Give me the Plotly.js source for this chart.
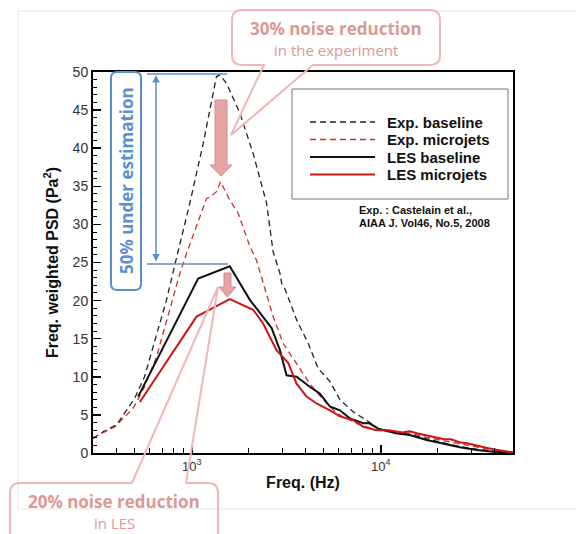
<!DOCTYPE html>
<html><head><meta charset="utf-8">
<script src="https://cdn.plot.ly/plotly-3.0.1.min.js"></script>
<style>html,body{margin:0;padding:0;background:#fff}#chart{width:576px;height:534px}</style>
</head><body><div id="chart"></div>
<script>
// ---- data (Hz, Pa^2) ----
const expBaseFreq = [300, 340, 400, 499, 562, 650, 735, 813, 976, 1148, 1350, 1406, 1527, 1795, 2110, 2484, 2692, 2924, 2985, 3100, 3580, 4125, 4655, 5375, 6070, 7130, 8390, 9680, 12000, 14200, 17460, 21400, 26200, 32100, 39300, 50000];
const expBaseVal  = [1.9, 2.8, 3.7, 7.2, 10.0, 15.3, 20.1, 24.7, 32.8, 40.6, 49.4, 49.6, 48.5, 44.6, 39.3, 32.8, 26.4, 23.6, 22.3, 21.6, 17.5, 14.4, 11.1, 9.4, 7.0, 5.4, 4.3, 3.2, 2.8, 2.45, 1.85, 1.3, 0.85, 0.5, 0.25, 0.08];

const expMjFreq = [300, 392, 490, 562, 650, 766, 865, 938, 1059, 1196, 1250, 1350, 1419, 1586, 1757, 2027, 2198, 2383, 2692, 3041, 3580, 4207, 4955, 5834, 7430, 9480, 12000, 14200, 17460, 21400, 26200, 32100, 39300, 50000];
const expMjVal  = [2.0, 3.45, 5.9, 8.7, 12.6, 18.8, 23.6, 26.2, 29.7, 33.4, 33.6, 34.3, 35.6, 33.2, 31.5, 27.1, 25.3, 22.3, 17.9, 14.4, 11.8, 9.1, 7.0, 5.2, 3.9, 3.0, 2.7, 2.6, 2.05, 1.6, 1.2, 0.8, 0.4, 0.05];

const lesBaseFreq = [520, 1080, 1587, 2027, 2643, 2924, 3170, 3580, 4207, 4753, 5375, 6070, 6850, 8060, 8700, 9680, 12000, 14200, 17460, 21400, 26200, 32100, 39300, 50000];
const lesBaseVal  = [7.4, 22.9, 24.5, 20.1, 16.4, 13.5, 10.2, 10.0, 8.7, 7.8, 6.1, 5.6, 4.55, 3.9, 3.9, 3.2, 2.6, 2.36, 1.7, 1.18, 0.75, 0.39, 0.17, 0.05];

const lesMjFreq = [531, 1059, 1587, 2110, 2383, 2805, 3240, 3580, 4045, 4570, 5375, 6070, 7130, 8060, 9480, 11000, 13000, 14200, 15500, 17460, 19000, 21400, 23500, 26200, 29000, 32100, 36000, 39300, 44000, 50000];
const lesMjVal  = [6.7, 17.9, 20.2, 18.8, 17.0, 13.5, 11.8, 9.1, 7.4, 6.5, 5.6, 4.8, 4.3, 3.45, 3.0, 3.0, 2.7, 2.85, 2.6, 2.3, 2.1, 1.85, 1.8, 1.4, 1.25, 0.95, 0.7, 0.5, 0.3, 0.05];

const seriesNames = ['Exp. baseline', 'Exp. microjets', 'LES baseline', 'LES microjets'];
const xTickVals = [1000, 10000];
const xTickText = ['10<sup>3</sup>', '10<sup>4</sup>'];
const xMinorVals = [400, 500, 600, 700, 800, 900, 2000, 3000, 4000, 5000, 6000, 7000, 8000, 9000, 20000, 30000, 40000];

// ---- geometry helpers for decorative overlay (pixel -> paper) ----
const L = 93, R = 513, T = 72, B = 453;
const X = p => (p - L) / (R - L);
const Y = p => (B - p) / (B - T);
function P(cmds) {
  return cmds.map(c => {
    const t = c[0], a = c.slice(1);
    let s = t;
    for (let i = 0; i < a.length; i += 2) s += (i ? ' ' : '') + X(a[i]).toFixed(5) + ',' + Y(a[i + 1]).toFixed(5);
    return s;
  }).join(' ');
}

const pinkLine = '#efb7b7', pinkText = '#dc9797', pinkFill = '#e6a4a4', pinkEdge = '#d88c8c';
const blue = '#5b8fd3';
const font = 'Liberation Sans, Arial, sans-serif';
const cfont = 'Open Sans, Noto Sans, sans-serif';

const styles = [
  {color: '#222', width: 1.3, dash: '6px,4px'},
  {color: '#d42a2a', width: 1.3, dash: '6px,4px'},
  {color: '#111', width: 2},
  {color: '#cc1616', width: 2}
];
const traces = [
  {x: expBaseFreq, y: expBaseVal, name: seriesNames[0], mode: 'lines', line: styles[0]},
  {x: expMjFreq, y: expMjVal, name: seriesNames[1], mode: 'lines', line: styles[1]},
  {x: lesBaseFreq, y: lesBaseVal, name: seriesNames[2], mode: 'lines', line: styles[2]},
  {x: lesMjFreq, y: lesMjVal, name: seriesNames[3], mode: 'lines', line: styles[3]}
];

const shapes = [
  {type: 'rect', xref: 'paper', yref: 'paper', x0: X(18), x1: X(600), y0: Y(509), y1: Y(11), line: {color: '#e6e6e6', width: 1}, layer: 'below'},
  {type: 'rect', xref: 'paper', yref: 'paper', x0: X(292), x1: X(508), y0: Y(199), y1: Y(89), line: {color: '#777', width: 1}},
  {type: 'path', xref: 'paper', yref: 'paper', line: {color: pinkLine, width: 2},
   path: P([['M', 242, 10], ['L', 430, 10], ['Q', 440, 10, 440, 20], ['L', 440, 55], ['Q', 440, 65, 430, 65], ['L', 313, 65], ['L', 231, 135], ['L', 264, 65], ['L', 242, 65], ['Q', 232, 65, 232, 55], ['L', 232, 20], ['Q', 232, 10, 242, 10], ['Z']])},
  {type: 'path', xref: 'paper', yref: 'paper', line: {color: pinkLine, width: 2},
   path: P([['M', 10, 545], ['L', 10, 493], ['Q', 10, 483, 20, 483], ['L', 132, 483], ['L', 218, 287], ['L', 186, 483], ['L', 208, 483], ['Q', 218, 483, 218, 493], ['L', 218, 545]])},
  {type: 'path', xref: 'paper', yref: 'paper', fillcolor: pinkFill, line: {color: pinkEdge, width: 1},
   path: P([['M', 215, 100], ['L', 227, 100], ['L', 227, 165], ['L', 232, 165], ['L', 221, 176], ['L', 210, 165], ['L', 215, 165], ['Z']])},
  {type: 'path', xref: 'paper', yref: 'paper', fillcolor: pinkFill, line: {color: pinkEdge, width: 1},
   path: P([['M', 224, 273], ['L', 231, 273], ['L', 231, 287], ['L', 236, 287], ['L', 227.5, 297], ['L', 219, 287], ['L', 224, 287], ['Z']])},
  {type: 'path', xref: 'paper', yref: 'paper', line: {color: blue, width: 2},
   path: P([['M', 117, 72], ['L', 135, 72], ['Q', 141, 72, 141, 78], ['L', 141, 284], ['Q', 141, 290, 135, 290], ['L', 117, 290], ['Q', 111, 290, 111, 284], ['L', 111, 78], ['Q', 111, 72, 117, 72], ['Z']])},
  {type: 'line', xref: 'paper', yref: 'paper', x0: X(147), x1: X(227), y0: Y(74), y1: Y(74), line: {color: blue, width: 1.5}},
  {type: 'line', xref: 'paper', yref: 'paper', x0: X(147), x1: X(228), y0: Y(264), y1: Y(264), line: {color: blue, width: 1.5}}
];

// legend (drawn as overlay so that its spacing matches the original box)
const legendRows = [122, 139.5, 157, 174.5];
const C = {xanchor: 'center', yanchor: 'middle', showarrow: false, xref: 'paper', yref: 'paper'};
const annotations = [
  {xref: 'paper', yref: 'paper', x: X(156), y: Y(75), ax: 0, ay: 188, axref: 'pixel', ayref: 'pixel', text: '', showarrow: true, arrowhead: 2, arrowside: 'end+start', arrowsize: 1, arrowwidth: 1.5, arrowcolor: blue},
  Object.assign({}, C, {x: X(336), y: Y(28), text: '<b>30% noise reduction</b>', font: {family: cfont, size: 17, color: pinkText}}),
  Object.assign({}, C, {x: X(336), y: Y(50), text: 'in the experiment', font: {family: cfont, size: 15, color: pinkText}}),
  Object.assign({}, C, {x: X(114), y: Y(501), text: '<b>20% noise reduction</b>', font: {family: cfont, size: 17, color: pinkText}}),
  Object.assign({}, C, {x: X(114), y: Y(523), text: 'in LES', font: {family: cfont, size: 15, color: pinkText}}),
  Object.assign({}, C, {x: X(126), y: Y(181), text: '<b>50% under estimation</b>', textangle: -90, font: {family: cfont, size: 17, color: blue}}),
  Object.assign({}, C, {x: X(357), y: Y(210), xanchor: 'left', text: '<b>Exp. : Castelain et al.,</b>', font: {family: font, size: 11, color: '#111'}}),
  Object.assign({}, C, {x: X(357), y: Y(223), xanchor: 'left', text: '<b>AIAA J. Vol46, No.5, 2008</b>', font: {family: font, size: 11, color: '#111'}})
];
seriesNames.forEach((n, i) => {
  shapes.push({type: 'line', xref: 'paper', yref: 'paper', x0: X(310), x1: X(375), y0: Y(legendRows[i]), y1: Y(legendRows[i]), line: styles[i]});
  annotations.push(Object.assign({}, C, {x: X(385), y: Y(legendRows[i]), xanchor: 'left', text: '<b>' + n + '</b>', font: {family: font, size: 15, color: '#111'}}));
});

const layout = {
  width: 576, height: 534, autosize: false,
  margin: {l: L, r: 576 - R, t: T, b: 534 - B, pad: 0},
  paper_bgcolor: '#fff', plot_bgcolor: '#fff',
  showlegend: false,
  xaxis: {type: 'log', range: [Math.log10(300), Math.log10(50000)], tickmode: 'array', tickvals: xTickVals, ticktext: xTickText,
          ticks: 'inside', ticklen: 8, tickwidth: 1.5, tickcolor: '#000', showline: true, linewidth: 2, linecolor: '#000', mirror: true,
          showgrid: false, zeroline: false,
          minor: {tickmode: 'array', tickvals: xMinorVals, ticks: 'inside', ticklen: 5, tickwidth: 1, tickcolor: '#000', showgrid: false},
          tickfont: {family: font, size: 13, color: '#333'},
          title: {text: '<b>Freq. (Hz)</b>', font: {family: font, size: 16, color: '#111'}, standoff: 4}},
  yaxis: {range: [0, 50], tickmode: 'linear', tick0: 0, dtick: 5, ticks: 'inside', ticklen: 8, tickwidth: 1.5, tickcolor: '#000',
          showline: true, linewidth: 2, linecolor: '#000', mirror: true, showgrid: false, zeroline: false,
          minor: {dtick: 1, ticks: 'inside', ticklen: 4, tickwidth: 1, tickcolor: '#000', showgrid: false},
          tickfont: {family: font, size: 14, color: '#333'},
          title: {text: '<b>Freq. weighted PSD (Pa<sup>2</sup>)</b>', font: {family: font, size: 16, color: '#111'}, standoff: 10}},
  shapes: shapes,
  annotations: annotations
};

Plotly.newPlot('chart', traces, layout, {displayModeBar: false, staticPlot: true});
</script>
</body></html>
